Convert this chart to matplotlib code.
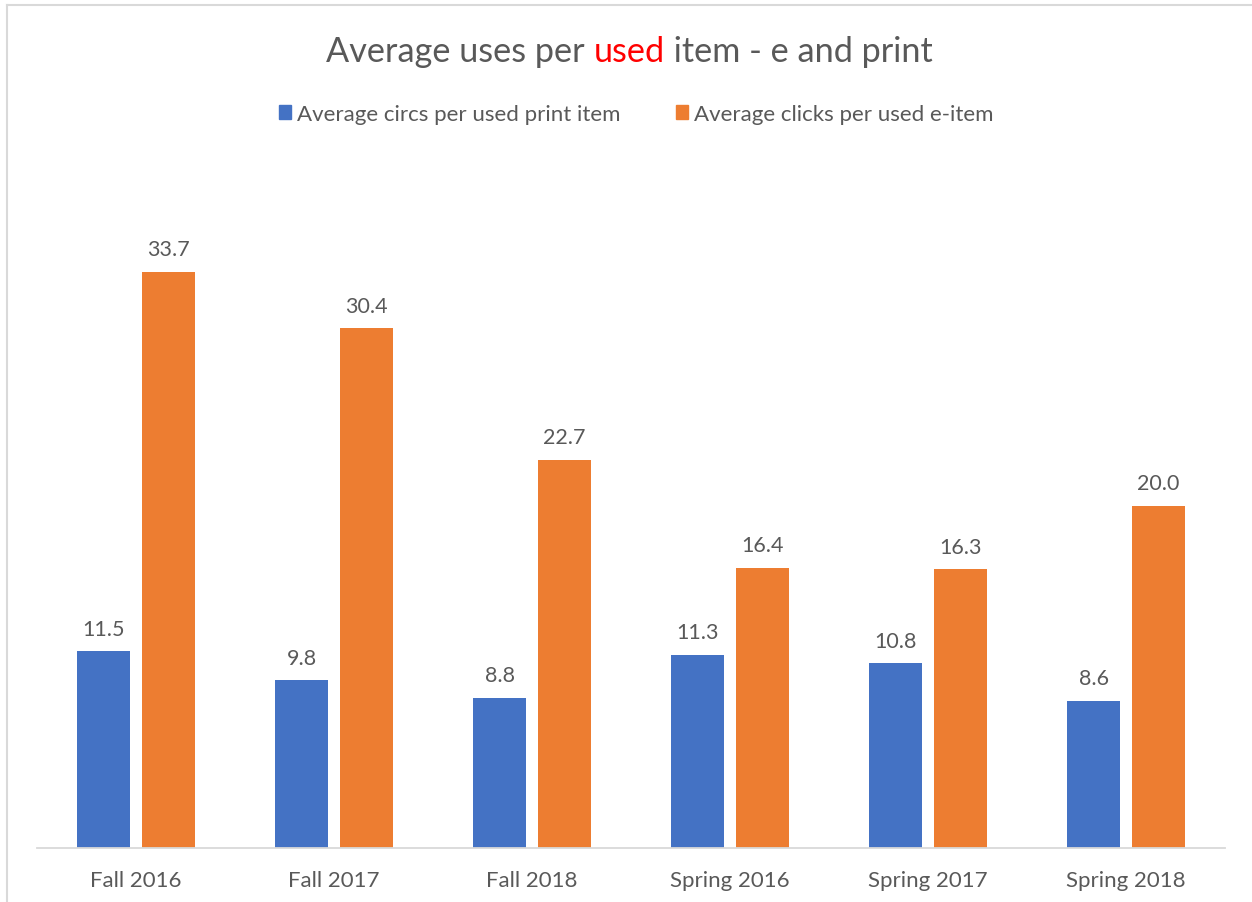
import numpy as np
import matplotlib.pyplot as plt
from matplotlib.patches import Patch
from matplotlib.lines import Line2D

plt.rcParams['font.family'] = ['Lato', 'DejaVu Sans']

# data
terms = ['Fall 2016', 'Fall 2017', 'Fall 2018', 'Spring 2016', 'Spring 2017', 'Spring 2018']
print_circs = [11.5, 9.8, 8.8, 11.3, 10.8, 8.6]
e_clicks = [33.7, 30.4, 22.7, 16.4, 16.3, 20.0]
series_names = ['Average circs per used print item', 'Average clicks per used e-item']

blue = '#4472c4'
orange = '#ed7d31'
grey_txt = '#595959'
grey_line = '#d9d9d9'

fig = plt.figure(figsize=(12.52, 9.03), dpi=100)
ax = fig.add_axes([37/1252, 54/903, 1188/1252, 684/903])

x = np.arange(len(terms))
w = 0.263
off = 0.164
b1 = ax.bar(x - off, print_circs, w, color=blue)
b2 = ax.bar(x + off, e_clicks, w, color=orange)

for bars, vals in ((b1, print_circs), (b2, e_clicks)):
    for r, v in zip(bars, vals):
        ax.annotate('%.1f' % v, (r.get_x() + r.get_width()/2, v), xytext=(0, 9),
                    textcoords='offset points', ha='center', va='bottom',
                    fontsize=15.5, color=grey_txt)

ax.set_xlim(-0.5, len(terms) - 0.5)
ax.set_ylim(0, 40)
ax.set_yticks([])
ax.set_xticks(x)
ax.set_xticklabels(terms, fontsize=16, color=grey_txt)
ax.tick_params(axis='x', length=0, pad=16)
for s in ['top', 'right', 'left']:
    ax.spines[s].set_visible(False)
ax.spines['bottom'].set_color(grey_line)
ax.spines['bottom'].set_linewidth(1.3)

# chart frame (only top and left edges are inside the crop)
fig.add_artist(Line2D([7/1252, 7/1252], [0, 1 - 6/903], color=grey_line, lw=1.5))
fig.add_artist(Line2D([7/1252, 1], [1 - 6/903, 1 - 6/903], color=grey_line, lw=1.5))

# title with the word "used" in red
t1 = fig.text(326/1252, 1 - 52/903, 'Average uses per ', fontsize=24.7, color=grey_txt,
              ha='left', va='center')
t2 = fig.text(0, 0, 'used', fontsize=24.7, color='red', ha='left', va='bottom')
t3 = fig.text(0, 0, ' item - e and print', fontsize=24.7, color=grey_txt, ha='left', va='bottom')
fig.canvas.draw()
r = fig.canvas.get_renderer()
bb1 = t1.get_window_extent(r)
t2.set_position((bb1.x1/1252, bb1.y0/903))
fig.canvas.draw()
bb2 = t2.get_window_extent(r)
t3.set_position((bb2.x1/1252, bb2.y0/903))

handles = [Patch(color=blue), Patch(color=orange)]
leg = fig.legend(handles, series_names, loc='center', bbox_to_anchor=(636/1252, 1 - 115/903),
                 ncol=2, frameon=False, fontsize=16, handlelength=0.55, handleheight=0.55,
                 handletextpad=0.25, columnspacing=2.5)
for txt in leg.get_texts():
    txt.set_color(grey_txt)

fig.savefig('out.png', dpi=100)
